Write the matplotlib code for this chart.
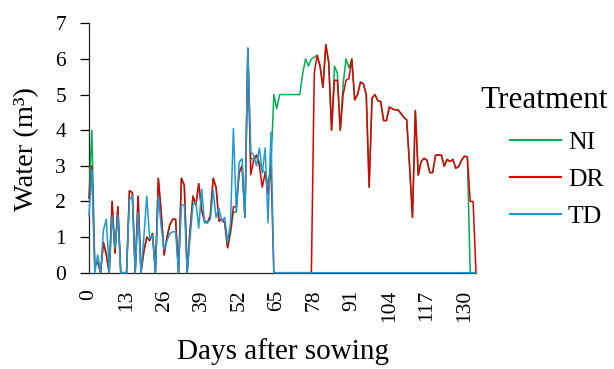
import matplotlib
matplotlib.use("Agg")
import matplotlib.pyplot as plt

# days after sowing (category axis, one point per day)
days = list(range(135))

# NI - no irrigation limit
ni = [2.1, 4.0, 0.2, 0.3, 0, 0.85, 0.5, 0, 2.0, 0.55,
      1.85, 0, 0, 0, 2.3, 2.25, 0, 2.15, 0, 0.6,
      1.0, 0.9, 1.1, 0, 2.65, 1.7, 0.5, 1.0, 1.35, 1.5,
      1.5, 0, 2.65, 2.45, 0, 1.2, 2.15, 1.9, 2.5, 1.75,
      1.45, 1.4, 1.6, 2.65, 2.4, 1.45, 1.5, 1.4, 0.7, 1.1,
      1.7, 1.7, 2.85, 3.0, 1.55, 6.3, 3.2, 3.2, 3.3, 3.1,
      2.9, 2.8, 2.5, 3.0, 5.0, 4.6, 5.0, 5.0, 5.0, 5.0,
      5.0, 5.0, 5.0, 5.0, 5.6, 6.0, 5.8, 6.0, 6.05, 6.1,
      5.8, 5.2, 6.4, 5.9, 4.0, 5.8, 5.6, 4.0, 5.3, 6.0,
      5.75, 6.0, 4.85, 5.0, 5.35, 5.3, 5.0, 2.4, 4.9, 5.0,
      4.83, 4.8, 4.27, 4.27, 4.65, 4.6, 4.57, 4.57, 4.47, 4.36,
      4.29, 3.0, 1.55, 4.55, 2.74, 3.12, 3.21, 3.16, 2.81, 2.81,
      3.3, 3.3, 3.3, 2.99, 3.18, 3.12, 3.18, 2.93, 2.98, 3.16,
      3.27, 3.25, 0, 0, 0]

# DR
dr = [2.1, 3.0, 0.2, 0.3, 0, 0.85, 0.5, 0, 2.0, 0.55,
      1.85, 0, 0, 0, 2.3, 2.25, 0, 2.15, 0, 0.6,
      1.0, 0.9, 1.1, 0, 2.65, 1.7, 0.5, 1.0, 1.35, 1.5,
      1.5, 0, 2.65, 2.45, 0, 1.2, 2.15, 1.9, 2.5, 1.75,
      1.45, 1.4, 1.6, 2.65, 2.4, 1.45, 1.5, 1.4, 0.7, 1.2,
      1.85, 1.85, 2.8, 3.0, 1.55, 6.3, 2.75, 3.15, 3.3, 3.0,
      2.4, 2.8, 2.2, 3.0, 0, 0, 0, 0, 0, 0,
      0, 0, 0, 0, 0, 0, 0, 0, 5.6, 6.1,
      5.8, 5.2, 6.4, 5.9, 4.0, 5.4, 5.4, 4.0, 5.0, 5.4,
      5.45, 6.0, 4.85, 5.0, 5.35, 5.3, 5.0, 2.4, 4.9, 5.0,
      4.83, 4.8, 4.27, 4.27, 4.65, 4.6, 4.57, 4.57, 4.47, 4.36,
      4.29, 3.0, 1.55, 4.55, 2.74, 3.12, 3.21, 3.16, 2.81, 2.81,
      3.3, 3.3, 3.3, 2.99, 3.18, 3.12, 3.18, 2.93, 2.98, 3.16,
      3.27, 3.25, 2.0, 2.0, 0]

# TD
td = [1.6, 2.9, 0, 0.5, 0, 1.2, 1.5, 0, 1.6, 0.7,
      1.6, 0, 0, 0, 2.05, 2.15, 0, 1.7, 0, 1.0,
      2.15, 0.95, 1.05, 0, 2.15, 1.3, 0.65, 0.9, 1.1, 1.15,
      1.15, 0, 1.9, 1.9, 0, 1.0, 1.9, 2.0, 1.25, 2.35,
      1.4, 1.4, 1.5, 2.3, 1.55, 1.8, 1.45, 1.55, 0.85, 1.4,
      4.05, 1.75, 3.1, 3.2, 1.55, 6.3, 3.4, 3.3, 3.0, 3.5,
      2.8, 3.5, 1.4, 3.95, 0, 0, 0, 0, 0, 0,
      0, 0, 0, 0, 0, 0, 0, 0, 0, 0,
      0, 0, 0, 0, 0, 0, 0, 0, 0, 0,
      0, 0, 0, 0, 0, 0, 0, 0, 0, 0,
      0, 0, 0, 0, 0, 0, 0, 0, 0, 0,
      0, 0, 0, 0, 0, 0, 0, 0, 0, 0,
      0, 0, 0, 0, 0, 0, 0, 0, 0, 0,
      0, 0, 0, 0, 0]

x_ticks = list(range(0, 131, 13))
y_ticks = list(range(0, 8))

plt.rcParams['font.family'] = ['Liberation Serif', 'DejaVu Serif']

W, H = 614, 369
fig = plt.figure(figsize=(W / 100, H / 100), dpi=100)
ax = fig.add_axes([89 / W, 1 - 272.7 / H, (476 - 89) / W, (272.7 - 23.3) / H])

ax.plot(days, ni, color='#00b050', lw=1.1, label='NI', zorder=3, clip_on=False)
ax.plot(days, dr, color='#e00000', lw=1.1, label='DR', zorder=3, clip_on=False)
ax.plot(days, td, color='#1a9bd7', lw=1.1, label='TD', zorder=3, clip_on=False)

ax.set_xlim(0, 134)
ax.set_ylim(0, 7)
ax.set_xticks(x_ticks)
ax.set_yticks(y_ticks)
ax.tick_params(axis='x', length=0, pad=12, labelsize=15.5, labelrotation=90)
ax.tick_params(axis='y', length=6.5, width=0.9, direction='out', pad=10, labelsize=15.5)
for side in ('top', 'right'):
    ax.spines[side].set_visible(False)
for side in ('left', 'bottom'):
    ax.spines[side].set_linewidth(0.9)
    ax.spines[side].set_color('#222222')

fig.text(283 / W, 1 - 352 / H, 'Days after sowing', ha='center', va='center', fontsize=21)
fig.text(27 / W, 1 - 149 / H, 'Water (m³)', ha='center', va='center', rotation=90, fontsize=20.5)

fig.text(480 / W, 1 - 108.3 / H, 'Treatment', ha='left', va='baseline', fontsize=22.5)
leg = ax.legend(loc='upper left', bbox_to_anchor=(510 / W, 1 - 131 / H),
                bbox_transform=fig.transFigure, frameon=False, fontsize=18.5,
                handlelength=2.0, handletextpad=0.25, labelspacing=0.55,
                borderpad=0, borderaxespad=0)
for line in leg.get_lines():
    line.set_linewidth(1.5)

fig.savefig('out.png', dpi=100)
